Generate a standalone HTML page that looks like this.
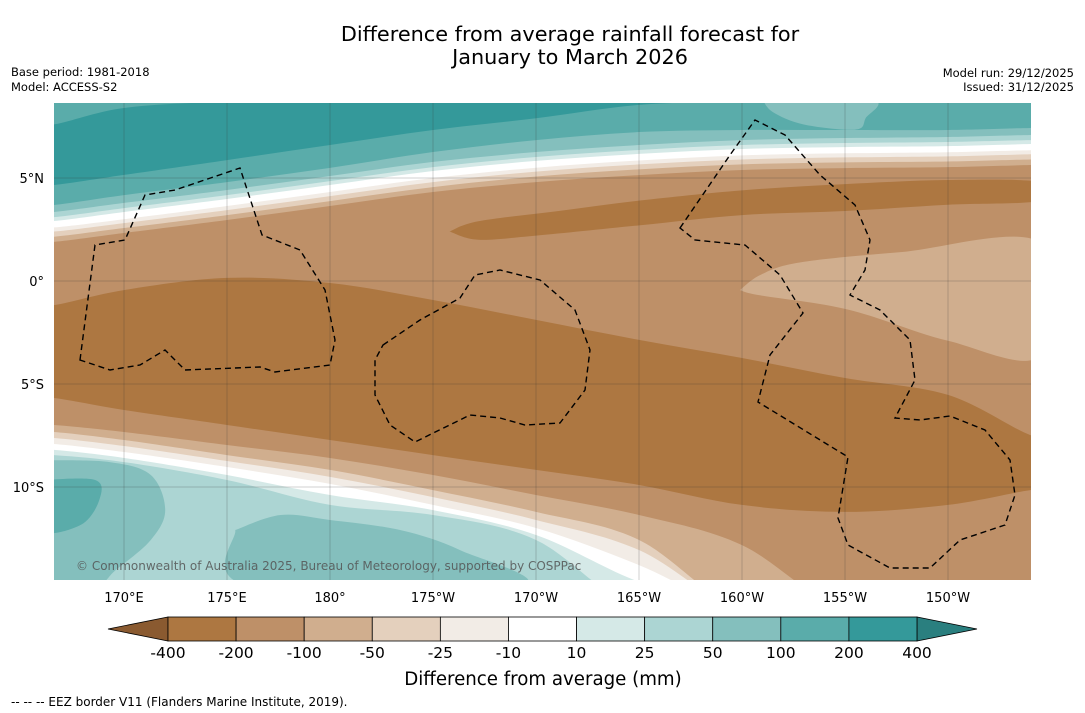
<!DOCTYPE html>
<html><head><meta charset="utf-8">
<style>
body{margin:0;background:#fff;width:1085px;height:713px;overflow:hidden;font-family:"DejaVu Sans","Liberation Sans",sans-serif;}
svg{display:block}
</style></head>
<body>
<svg id="chart" width="1085" height="713" xmlns="http://www.w3.org/2000/svg">
<text x="570" y="41" text-anchor="middle" font-size="20.8">Difference from average rainfall forecast for</text>
<text x="570" y="64" text-anchor="middle" font-size="20.8">January to March 2026</text>
<text x="11" y="76" font-size="11.5">Base period: 1981-2018</text>
<text x="11" y="91" font-size="11.5">Model: ACCESS-S2</text>
<text x="1074" y="77" text-anchor="end" font-size="11.5">Model run: 29/12/2025</text>
<text x="1074" y="91" text-anchor="end" font-size="11.5">Issued: 31/12/2025</text>
<defs><clipPath id="mapclip"><rect x="54" y="103" width="977" height="477"/></clipPath></defs>
<g id="map" clip-path="url(#mapclip)"></g>
<g id="eez" clip-path="url(#mapclip)" fill="none" stroke="#000" stroke-width="1.4" stroke-dasharray="6,4">
<path d="M80,360 L95,245 L125,240 L145,195 L175,190 L240,168 L262,235 L300,250 L325,290 L335,340 L330,365 L275,372 L260,367 L185,370 L165,350 L140,365 L110,370 Z"/>
<path d="M383,345 L420,320 L460,298 L475,275 L500,270 L540,280 L575,310 L590,350 L585,390 L560,423 L525,425 L500,418 L470,415 L415,442 L390,425 L375,395 L375,360 Z"/>
<path d="M680,228 L730,155 L755,120 L785,135 L820,175 L855,205 L870,240 L865,270 L850,295 L880,310 L910,340 L915,380 L895,418 L920,420 L950,416 L985,430 L1010,460 L1015,495 L1005,525 L960,540 L930,568 L890,568 L848,545 L838,518 L848,457 L758,402 L770,355 L803,313 L780,275 L745,245 L695,240 Z"/>
</g>
<g id="grid"></g>
<text x="76" y="570" font-size="12" fill="#555" opacity="0.85">© Commonwealth of Australia 2025, Bureau of Meteorology, supported by COSPPac</text>
<g id="axes"></g>
<g id="cbar"></g>
<text x="543" y="685" text-anchor="middle" font-size="18.2">Difference from average (mm)</text>
<text x="11" y="706" font-size="12">--  --  -- EEZ border V11 (Flanders Marine Institute, 2019).</text>
</svg>
<script>
const LONS = [166.6,170,175,180,185,190,195,200,205,210,214];
const C = {n400:'#a97446',m400:'#ad7741',m200:'#be9068',m100:'#d0ae8e',m50:'#e4d0bd',m25:'#f2ece6',z:'#ffffff',p10:'#d5e9e7',p25:'#acd5d3',p50:'#84bfbd',p100:'#5aacaa',p200:'#34999a',p400:'#2a7f7f'};
const T0 = [7.6,8.4,8.7,8.7,8.7,8.7,8.7,8.7,8.7,8.7,8.7];
const T1 = [4.66,5.15,5.87,6.6,7.33,7.9,8.55,8.7,8.7,8.7,8.7];
const B100 = [3.69,4.17,4.8,5.49,6.26,6.84,7.23,7.33,7.33,7.33,7.43];
const B50 = [3.35,3.79,4.42,5.1,5.78,6.26,6.6,6.84,6.94,6.99,7.09];
const B25 = [3.1,3.54,4.17,4.85,5.53,6.02,6.36,6.6,6.7,6.75,6.84];
const B10 = [2.91,3.35,3.98,4.66,5.34,5.83,6.17,6.41,6.5,6.55,6.65];
const BW = [2.6,3.0,3.64,4.32,5.0,5.5,5.85,6.1,6.2,6.25,6.35];
const BM25 = [2.4,2.81,3.44,4.12,4.8,5.31,5.66,5.9,6.0,6.05,6.15];
const BM50 = [2.15,2.57,3.2,3.88,4.56,5.07,5.42,5.66,5.76,5.8,5.9];
const BM100 = [1.9,2.33,2.96,3.64,4.32,4.8,5.14,5.39,5.48,5.53,5.63];
const A0 = [-1.17,-0.44,0.15,-0.1,-0.92,-1.89,-2.86,-3.74,-4.71,-5.53,-7.48];
const A1 = [-5.68,-6.26,-6.99,-7.72,-8.45,-9.17,-9.9,-10.87,-11.21,-10.87,-10.15];
const SM100 = [-6.99,-7.33,-7.96,-8.59,-9.42,-10.39,-11.36,-12.82,-16,-16,-16];
const SM50 = [-7.33,-7.72,-8.45,-9.17,-10.15,-11.21,-12.57,-16,-16,-16,-16];
const SM25 = [-7.62,-8.01,-8.74,-9.51,-10.49,-11.6,-13.06,-16,-16,-16,-16];
const SW = [-7.91,-8.3,-9.03,-9.85,-10.87,-11.99,-13.79,-16,-16,-16,-16];
const S10 = [-8.2,-8.59,-9.42,-10.39,-11.12,-12.33,-14.6,-16,-16,-16,-16];
const S25 = [-8.45,-8.79,-9.66,-10.87,-11.36,-12.57,-16,-16,-16,-16,-16];
const NORTH400 = [[185.8,2.4],[187.2,2.9],[191.1,3.4],[195,3.9],[200,4.4],[205,4.7],[210,4.9],[214.5,4.8],[214.5,3.9],[210,3.7],[205,3.4],[200,3.2],[195,2.7],[190,2.2],[187.2,2.0]];
const RIGHT100 = [[199.9,-0.44],[200.9,0.3],[202.8,0.9],[207.7,1.4],[214.5,1.85],[214.5,-3.6],[210,-2.9],[205.2,-1.4],[200.9,-0.7]];
const TOPR50 = [[201,8.8],[201.5,8.2],[203,7.6],[205.5,7.35],[206,7.9],[206.3,8.8]];
const SW50 = [[166,-8.7],[169.3,-8.79],[171.3,-9.42],[172,-11.12],[171.3,-12.57],[169.6,-14.03],[168.6,-14.8],[166,-14.8]];
const SM50B = [[175.4,-12.09],[177.6,-11.36],[180,-11.6],[183.4,-12.09],[186.3,-13.06],[189.2,-14.8],[176.1,-14.8]];
const SW100 = [[166,-9.66],[168.6,-9.66],[168.8,-10.63],[167.9,-11.84],[166,-12.09]];
const LEVELS = ['-400','-200','-100','-50','-25','-10','10','25','50','100','200','400'];
const CB_COLORS = [C.m400,C.m200,C.m100,C.m50,C.m25,C.z,C.p10,C.p25,C.p50,C.p100,C.p200];
const LON_TICKS = [170,175,180,185,190,195,200,205,210];
const LON_LABELS = ['170°E','175°E','180°','175°W','170°W','165°W','160°W','155°W','150°W'];
const LAT_TICKS = [5,0,-5,-10];
const LAT_LABELS = ['5°N','0°','5°S','10°S'];

const NS='http://www.w3.org/2000/svg';
const xOf = lon => 124 + (lon-170)*20.6;
const yOf = lat => 281 - lat*20.6;
function smooth(pts){
  let d='';
  for(let i=0;i<pts.length-1;i++){
    const p0=pts[Math.max(0,i-1)],p1=pts[i],p2=pts[i+1],p3=pts[Math.min(pts.length-1,i+2)];
    const c1=[p1[0]+(p2[0]-p0[0])/6,p1[1]+(p2[1]-p0[1])/6];
    const c2=[p2[0]-(p3[0]-p1[0])/6,p2[1]-(p3[1]-p1[1])/6];
    d+=` C${c1[0]},${c1[1]} ${c2[0]},${c2[1]} ${p2[0]},${p2[1]}`;
  }
  return d;
}
function linePts(lats){const p=lats.map((la,i)=>[xOf(LONS[i]),yOf(la)]);p.unshift([xOf(LONS[0])-30,p[0][1]]);p.push([xOf(LONS[LONS.length-1])+30,p[p.length-1][1]]);return p;}
const map=document.getElementById('map');
function addPath(d,fill,name){const e=document.createElementNS(NS,'path');e.setAttribute('d',d);e.setAttribute('fill',fill);


map.appendChild(e);}
function above(lats,fill,name){const p=linePts(lats);let d=`M${p[0][0]},${p[0][1]}`+smooth(p)+` L${p[p.length-1][0]},80 L${p[0][0]},80 Z`;addPath(d,fill,name);}
function below(lats,fill,name){const p=linePts(lats);let d=`M${p[0][0]},${p[0][1]}`+smooth(p)+` L${p[p.length-1][0]},620 L${p[0][0]},620 Z`;addPath(d,fill,name);}
function band(top,bot,fill,name){const p=linePts(top),q=linePts(bot).reverse();let d=`M${p[0][0]},${p[0][1]}`+smooth(p)+` L${q[0][0]},${q[0][1]}`+smooth(q)+' Z';addPath(d,fill,name);}
function blob(pts,fill,name){const p=pts.map(a=>[xOf(a[0]),yOf(a[1])]);p.push(p[0]);addPath(`M${p[0][0]},${p[0][1]}`+smooth(p)+' Z',fill,name);}

addPath('M40,90 H1050 V600 H40 Z',C.m200,'base-band-minus200');
above(BM100,C.m100,'north-band-minus100');
above(BM50,C.m50,'north-band-minus50');
above(BM25,C.m25,'north-band-minus25');
above(BW,C.z,'north-band-neutral');
above(B10,C.p10,'north-band-10');
above(B25,C.p25,'north-band-25');
above(B50,C.p50,'north-band-50');
above(B100,C.p100,'north-band-100');
band(T0,T1,C.p200,'north-band-200');
blob(TOPR50,C.p50,'north-blob-50');
blob(NORTH400,C.m400,'north-blob-minus400');
blob(RIGHT100,C.m100,'east-blob-minus100');
band(A0,A1,C.m400,'equatorial-band-minus400');
below(SM100,C.m100,'south-band-minus100');
below(SM50,C.m50,'south-band-minus50');
below(SM25,C.m25,'south-band-minus25');
below(SW,C.z,'south-band-neutral');
below(S10,C.p10,'south-band-10');
below(S25,C.p25,'south-band-25');
blob(SW50,C.p50,'southwest-blob-50');
blob(SM50B,C.p50,'south-blob-50');
blob(SW100,C.p100,'southwest-blob-100');

const grid=document.getElementById('grid'),axes=document.getElementById('axes');
LON_TICKS.forEach((lo,i)=>{const x=xOf(lo);
 const l=document.createElementNS(NS,'line');l.setAttribute('x1',x);l.setAttribute('x2',x);l.setAttribute('y1',103);l.setAttribute('y2',580);l.setAttribute('stroke','#333');l.setAttribute('stroke-width','0.5');l.setAttribute('opacity','0.45');
 
 
 grid.appendChild(l);
 const t=document.createElementNS(NS,'text');t.setAttribute('x',x);t.setAttribute('y',602);t.setAttribute('text-anchor','middle');t.setAttribute('font-size','13');t.textContent=LON_LABELS[i];
 
 
 axes.appendChild(t);});
LAT_TICKS.forEach((la,i)=>{const y=yOf(la);
 const l=document.createElementNS(NS,'line');l.setAttribute('x1',54);l.setAttribute('x2',1031);l.setAttribute('y1',y);l.setAttribute('y2',y);l.setAttribute('stroke','#333');l.setAttribute('stroke-width','0.5');l.setAttribute('opacity','0.45');
 
 
 grid.appendChild(l);
 const t=document.createElementNS(NS,'text');t.setAttribute('x',44);t.setAttribute('y',y+5);t.setAttribute('text-anchor','end');t.setAttribute('font-size','13');t.textContent=LAT_LABELS[i];
 
 
 axes.appendChild(t);});

const cb=document.getElementById('cbar');
const cx0=168,cx1=917,cy=617,ch=24,bw=(cx1-cx0)/CB_COLORS.length;
const lt=document.createElementNS(NS,'polygon');lt.setAttribute('points',`108,${cy+ch/2} ${cx0},${cy} ${cx0},${cy+ch}`);lt.setAttribute('fill','#8a5a30');lt.setAttribute('stroke','#000');lt.setAttribute('stroke-width','0.8');


cb.appendChild(lt);
const rt=document.createElementNS(NS,'polygon');rt.setAttribute('points',`977,${cy+ch/2} ${cx1},${cy} ${cx1},${cy+ch}`);rt.setAttribute('fill',C.p400);rt.setAttribute('stroke','#000');rt.setAttribute('stroke-width','0.8');


cb.appendChild(rt);
CB_COLORS.forEach((c,i)=>{const r=document.createElementNS(NS,'rect');r.setAttribute('x',cx0+i*bw);r.setAttribute('y',cy);r.setAttribute('width',bw);r.setAttribute('height',ch);r.setAttribute('fill',c);r.setAttribute('stroke','#000');r.setAttribute('stroke-width','0.8');
 
 
 cb.appendChild(r);});
LEVELS.forEach((s,i)=>{const t=document.createElementNS(NS,'text');t.setAttribute('x',cx0+i*bw);t.setAttribute('y',658);t.setAttribute('text-anchor','middle');t.setAttribute('font-size','15.5');t.textContent=s;
 
 
 cb.appendChild(t);});
</script>
</body></html>
